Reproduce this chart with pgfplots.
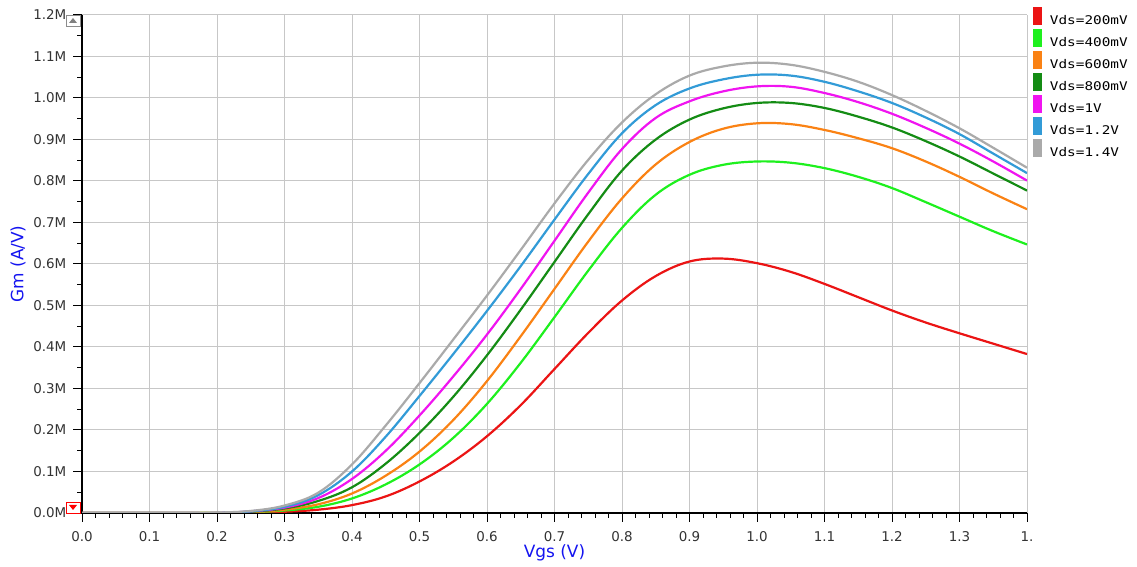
\documentclass[border=0pt]{standalone}
\usepackage{pgfplots}
\pgfplotsset{compat=1.18}
\usepackage{pgfplotstable}
\usepackage{fontspec}
\setmainfont{DejaVu Sans}
\newfontfamily\legfont[FakeStretch=1.2]{DejaVu Sans Mono}

\definecolor{cRed}{RGB}{235,20,20}
\definecolor{cGreen}{RGB}{30,240,30}
\definecolor{cOrange}{RGB}{250,130,20}
\definecolor{cDkGreen}{RGB}{20,140,20}
\definecolor{cMagenta}{RGB}{240,20,240}
\definecolor{cBlue}{RGB}{50,155,215}
\definecolor{cGray}{RGB}{170,170,170}
\definecolor{cLabel}{RGB}{20,20,240}

\pgfplotstableread{
x r g o dg m b gr
0.00 0 0 0 0 0 0 0
0.10 0 0 0 0 0 0 0
0.15 0 0 0 0 0 0 0
0.20 0 0 0 0 0 0 0.001
0.25 0.001 0.002 0.002 0.003 0.004 0.004 0.005
0.30 0.003 0.006 0.008 0.011 0.013 0.015 0.018
0.35 0.008 0.015 0.021 0.029 0.036 0.043 0.049
0.40 0.019 0.035 0.047 0.062 0.082 0.100 0.117
0.45 0.040 0.069 0.090 0.119 0.150 0.184 0.211
0.50 0.076 0.117 0.148 0.193 0.235 0.282 0.313
0.55 0.124 0.181 0.224 0.280 0.329 0.383 0.418
0.60 0.185 0.263 0.318 0.380 0.430 0.487 0.524
0.65 0.260 0.362 0.426 0.490 0.540 0.595 0.634
0.70 0.347 0.472 0.540 0.605 0.656 0.707 0.746
0.75 0.434 0.584 0.654 0.720 0.772 0.817 0.851
0.80 0.512 0.687 0.758 0.825 0.877 0.915 0.941
0.85 0.571 0.767 0.840 0.900 0.952 0.983 1.009
0.90 0.606 0.815 0.894 0.948 0.992 1.023 1.054
0.95 0.613 0.839 0.926 0.975 1.016 1.045 1.076
1.00 0.602 0.847 0.939 0.988 1.028 1.056 1.085
1.05 0.581 0.844 0.937 0.988 1.027 1.054 1.080
1.10 0.552 0.831 0.923 0.976 1.012 1.039 1.063
1.15 0.520 0.810 0.903 0.955 0.990 1.016 1.039
1.20 0.488 0.783 0.879 0.929 0.962 0.988 1.007
1.25 0.459 0.749 0.847 0.896 0.928 0.953 0.969
1.30 0.433 0.714 0.810 0.859 0.890 0.913 0.927
1.35 0.408 0.679 0.770 0.818 0.847 0.866 0.880
1.40 0.383 0.647 0.732 0.777 0.801 0.819 0.832
}\datatable

\begin{document}
\begin{tikzpicture}
\useasboundingbox (0,0) rectangle (1137bp,567bp);
\begin{axis}[
  at={(82bp,54bp)}, anchor=south west,
  width=945bp, height=498bp, scale only axis,
  xmin=0, xmax=1.4, ymin=0, ymax=1.2,
  axis lines=left,
  axis line style={-, black, line width=1.3bp},
  xtick={0,0.1,0.2,0.3,0.4,0.5,0.6,0.7,0.8,0.9,1.0,1.1,1.2,1.3,1.4},
  xticklabels={0.0,0.1,0.2,0.3,0.4,0.5,0.6,0.7,0.8,0.9,1.0,1.1,1.2,1.3,1.},
  ytick={0,0.1,0.2,0.3,0.4,0.5,0.6,0.7,0.8,0.9,1.0,1.1,1.2},
  yticklabels={0.0M,0.1M,0.2M,0.3M,0.4M,0.5M,0.6M,0.7M,0.8M,0.9M,1.0M,1.1M,1.2M},
  minor x tick num=4, minor y tick num=1,
  tick align=outside,
  major tick length=9bp, minor tick length=5bp,
  tick style={black, line width=1bp},
  grid=major,
  major grid style={color=black!22, line width=1bp},
  ticklabel style={font=\fontsize{13.5}{16}\selectfont, text=black!80},
  xticklabel style={yshift=-6bp},
  yticklabel style={inner sep=1.5bp, xshift=-5bp},
  xlabel={Vgs (V)}, ylabel={Gm (A/V)},
  every axis x label/.style={at={(axis description cs:0.5,-0.0803)}, anchor=center},
  every axis y label/.style={at={(axis description cs:-0.0677,0.5)}, rotate=90, anchor=center},
  label style={text=cLabel, font=\fontsize{17}{20}\selectfont},
  legend style={at={(rel axis cs:1.0063,1.0161)}, anchor=north west,
    draw=none, fill=none, inner sep=0pt, outer sep=0pt,
    row sep=0pt, column sep=8bp,
    font=\legfont\fontsize{12}{14}\selectfont,
    nodes={inner sep=0pt, text height=13.2bp, text depth=4.5bp}},
  legend cell align=left,
  legend image code/.code={\fill[#1,draw=none] (0bp,-4.5bp) rectangle (9bp,13.2bp);},
  every axis plot/.append style={line width=2.2bp, smooth, tension=0.6, no markers},
]
\addplot[cRed] table[x=x,y=r] {\datatable};
\addlegendentry{Vds=200mV}
\addplot[cGreen] table[x=x,y=g] {\datatable};
\addlegendentry{Vds=400mV}
\addplot[cOrange] table[x=x,y=o] {\datatable};
\addlegendentry{Vds=600mV}
\addplot[cDkGreen] table[x=x,y=dg] {\datatable};
\addlegendentry{Vds=800mV}
\addplot[cMagenta] table[x=x,y=m] {\datatable};
\addlegendentry{Vds=1V}
\addplot[cBlue] table[x=x,y=b] {\datatable};
\addlegendentry{Vds=1.2V}
\addplot[cGray] table[x=x,y=gr] {\datatable};
\addlegendentry{Vds=1.4V}
\end{axis}
% viewer scroll widgets
\draw[black!45, line width=0.8bp, fill=white] (66bp,541bp) rectangle (80bp,552bp);
\fill[black!50] (69bp,544bp) -- (77bp,544bp) -- (73bp,549bp) -- cycle;
\draw[red, line width=0.8bp, fill=white] (66bp,54bp) rectangle (80bp,65bp);
\fill[red] (69bp,62bp) -- (77bp,62bp) -- (73bp,57bp) -- cycle;
\end{tikzpicture}
\end{document}
